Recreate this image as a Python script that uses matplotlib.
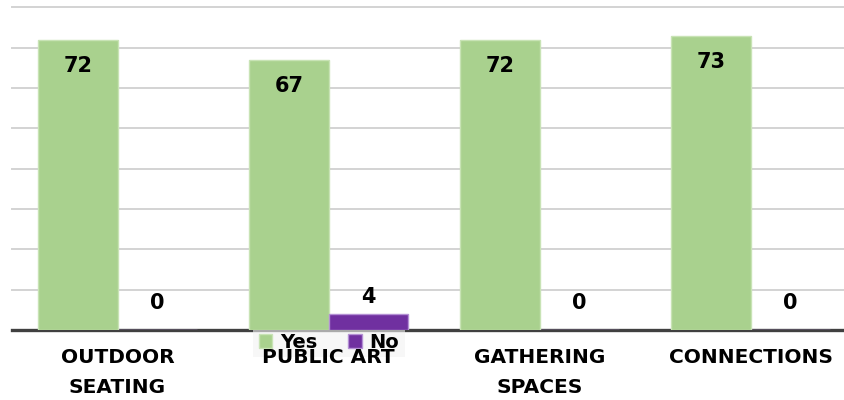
import matplotlib.pyplot as plt
import numpy as np

categories = ['OUTDOOR\nSEATING', 'PUBLIC ART', 'GATHERING\nSPACES', 'CONNECTIONS']
yes_vals = [72, 67, 72, 73]
no_vals = [0, 4, 0, 0]
grid_vals = [10, 20, 30, 40, 50, 60, 70, 80]

green = '#a9d18e'
purple = '#7030a0'

fig = plt.figure(figsize=(8.44, 4), dpi=100)
ax = fig.add_axes([12 / 844, 0.175, 1.0, 0.825])

x = np.arange(len(categories))
w = 0.375

for g in grid_vals:
    ax.axhline(g, color='#d3d3d3', lw=1.4, zorder=0.5, clip_on=False)

ax.bar(x - w / 2, yes_vals, w, color=green, edgecolor='#c8e3b5', lw=1, zorder=2, label='Yes')
ax.bar(x + w / 2, no_vals, w, color=purple, edgecolor='#b490d4', lw=1, zorder=2, label='No')

# value labels: Yes inside the top of the bar, No just above it
for xi, v in zip(x, yes_vals):
    ax.text(xi - w / 2, v - 6.5, str(v), ha='center', va='center',
            fontsize=15, fontweight='bold', zorder=3)
for xi, v in zip(x, no_vals):
    ax.text(xi + w / 2, max(v, 2.5) + 4.2, str(v), ha='center', va='center',
            fontsize=15, fontweight='bold', zorder=3)

ax.axhline(0, color='#404040', lw=2.4, zorder=0.9, clip_on=False)

ax.set_xlim(-0.5, 3.5)
ax.set_ylim(0, 81.8)
ax.set_xticks(x)
ax.set_xticklabels(categories, fontsize=14.5, fontweight='bold', linespacing=1.7)
ax.tick_params(axis='x', length=0, pad=13)
ax.set_yticks([])
for s in ax.spines.values():
    s.set_visible(False)

leg = ax.legend(loc='center', bbox_to_anchor=(329 / 844, 0.145), bbox_transform=fig.transFigure,
                ncol=2, frameon=True, fancybox=False, facecolor='#f2f2f2', edgecolor='none',
                framealpha=0.6, handlelength=0.7, handleheight=0.7, handletextpad=0.4,
                columnspacing=1.6, borderpad=0.3, borderaxespad=0,
                prop={'size': 14, 'weight': 'bold'})
leg.set_zorder(1.2)

fig.savefig('out.png', dpi=100)
